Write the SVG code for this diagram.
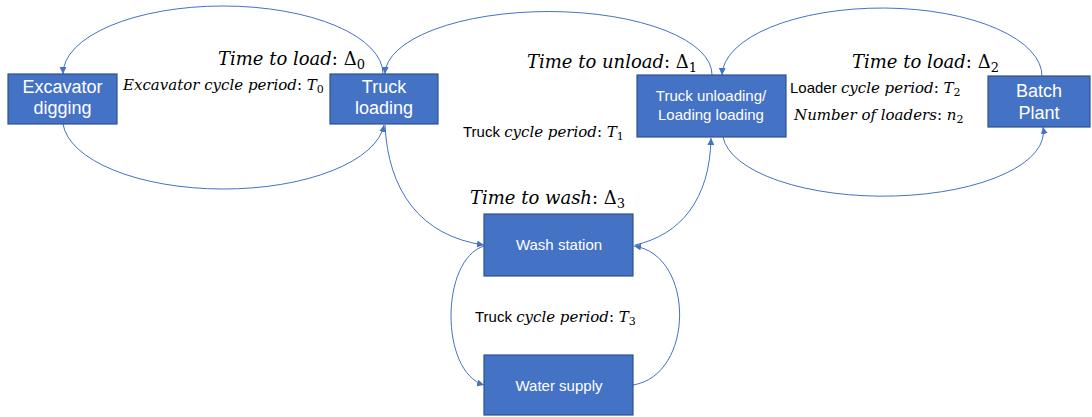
<svg xmlns="http://www.w3.org/2000/svg" width="1092" height="417" viewBox="0 0 1092 417">
<style>
.box{fill:#4472C4;stroke:#2F528F;stroke-width:1.2}
.lbl{font-family:"Liberation Sans",Arial,sans-serif;fill:#fff;text-anchor:middle}
.math{font-family:"DejaVu Serif",serif;fill:#000}
.it{font-style:italic}
.up{font-family:"Liberation Sans",Arial,sans-serif;font-style:normal}
.conn{fill:none;stroke:#4472C4;stroke-width:1}
</style>
<defs>
<marker id="arr" viewBox="0 0 10 10" refX="10" refY="5" markerWidth="7" markerHeight="7" markerUnits="userSpaceOnUse" orient="auto">
<path d="M0,0 L10,5 L0,10 Z" fill="#4472C4"/>
</marker>
</defs>
<rect width="1092" height="417" fill="#fff"/>
<g id="connectors">
<path class="conn" d="M383,74 A160,68 0 0 0 63,74" marker-end="url(#arr)"/>
<path class="conn" d="M63,124 A161,70 0 0 0 384,125" marker-end="url(#arr)"/>
<path class="conn" d="M712,75 A163.5,63 0 0 0 385,74" marker-end="url(#arr)"/>
<path class="conn" d="M1042,77 A160,68 0 0 0 722,75" marker-end="url(#arr)"/>
<path class="conn" d="M723,137 A160,64 0 0 0 1043,127" marker-end="url(#arr)"/>
<path class="conn" d="M385,125 C388,190 420,236 484,245" marker-end="url(#arr)"/>
<path class="conn" d="M635,245 C680,235 710,200 711,138" marker-end="url(#arr)"/>
<path class="conn" d="M484,246 C440,260 440,372 484,385" marker-end="url(#arr)"/>
<path class="conn" d="M633,385 C695,375 695,255 634,246" marker-end="url(#arr)"/>
</g>
<g id="excavator">
<rect class="box" x="8" y="74" width="109" height="50"/>
<text class="lbl" font-size="18" x="62.5" y="93">Excavator</text>
<text class="lbl" font-size="18" x="62.5" y="114">digging</text>
</g>
<g id="truck-loading">
<rect class="box" x="330" y="74" width="108" height="50"/>
<text class="lbl" font-size="18" x="384" y="93">Truck</text>
<text class="lbl" font-size="18" x="384" y="114">loading</text>
</g>
<g id="truck-unloading">
<rect class="box" x="637" y="75" width="149" height="62"/>
<text class="lbl" font-size="15" x="711" y="101">Truck unloading/</text>
<text class="lbl" font-size="15" x="711" y="120">Loading loading</text>
</g>
<g id="batch-plant">
<rect class="box" x="988" y="76" width="102" height="51"/>
<text class="lbl" font-size="18" x="1039" y="97">Batch</text>
<text class="lbl" font-size="18" x="1039" y="119">Plant</text>
</g>
<g id="wash-station">
<rect class="box" x="484" y="214" width="149" height="62"/>
<text class="lbl" font-size="15" x="559" y="250">Wash station</text>
</g>
<g id="water-supply">
<rect class="box" x="484" y="355" width="149" height="60"/>
<text class="lbl" font-size="15" x="559" y="391">Water supply</text>
</g>
<g id="labels">
<text class="math" font-size="18" x="218" y="65"><tspan class="it">Time to load</tspan>: Δ<tspan font-size="13" dy="4">0</tspan></text>
<text class="math" font-size="15" x="123" y="90"><tspan class="it">Excavator cycle period</tspan>: <tspan class="it">T</tspan><tspan font-size="11" dy="3">0</tspan></text>
<text class="math" font-size="18" x="527" y="68"><tspan class="it">Time to unload</tspan>: Δ<tspan font-size="13" dy="4">1</tspan></text>
<text class="math" font-size="15" x="463" y="137"><tspan class="up">Truck </tspan><tspan class="it">cycle period</tspan>: <tspan class="it">T</tspan><tspan font-size="11" dy="3">1</tspan></text>
<text class="math" font-size="18" x="470" y="204"><tspan class="it">Time to wash</tspan>: Δ<tspan font-size="13" dy="4">3</tspan></text>
<text class="math" font-size="18" x="852" y="68"><tspan class="it">Time to load</tspan>: Δ<tspan font-size="13" dy="4">2</tspan></text>
<text class="math" font-size="15" x="790" y="93"><tspan class="up">Loader </tspan><tspan class="it">cycle period</tspan>: <tspan class="it">T</tspan><tspan font-size="11" dy="3">2</tspan></text>
<text class="math" font-size="15" x="794" y="120"><tspan class="it">Number of loaders</tspan>: <tspan class="it">n</tspan><tspan font-size="11" dy="3">2</tspan></text>
<text class="math" font-size="15" x="475" y="322"><tspan class="up">Truck </tspan><tspan class="it">cycle period</tspan>: <tspan class="it">T</tspan><tspan font-size="11" dy="3">3</tspan></text>
</g>
</svg>
